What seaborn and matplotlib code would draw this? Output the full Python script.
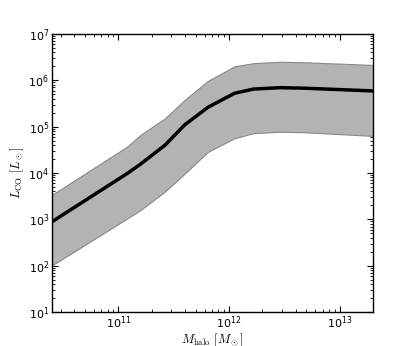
import numpy as np
import pandas as pd
import matplotlib
matplotlib.use('Agg')
import matplotlib.pyplot as plt
import seaborn as sns

# Halo mass grid and CO luminosity (median and scatter band)
m_halo = [2.51e10, 1.20e11, 1.58e11, 2.63e11, 3.98e11, 6.46e11,
          1.12e12, 1.66e12, 2.88e12, 4.68e12, 2.00e13]
l_co_med = [891, 9772, 15490, 39810, 1.10e5, 2.63e5,
            5.25e5, 6.46e5, 6.92e5, 6.76e5, 5.89e5]
l_co_hi = [3390, 3.72e4, 6.61e4, 1.51e5, 3.80e5, 9.77e5,
           2.00e6, 2.34e6, 2.51e6, 2.45e6, 2.14e6]
l_co_lo = [102, 1047, 1585, 3981, 9772, 2.88e4,
           5.62e4, 7.24e4, 7.76e4, 7.59e4, 6.31e4]

df = pd.DataFrame({'mhalo': m_halo, 'lco': l_co_med})

sns.set_style('ticks')
plt.rcParams.update({
    'font.family': ['DejaVu Sans'],
    'mathtext.fontset': 'cm',
    'text.color': 'black',
    'axes.labelcolor': 'black',
    'axes.edgecolor': 'black',
    'xtick.color': 'black',
    'ytick.color': 'black',
    'xtick.direction': 'in',
    'ytick.direction': 'in',
    'xtick.top': True,
    'ytick.right': True,
    'xtick.major.size': 4,
    'ytick.major.size': 4,
    'xtick.minor.size': 2,
    'ytick.minor.size': 2,
    'axes.linewidth': 1.0,
})

fig = plt.figure(figsize=(4.15, 3.46), dpi=100)
ax = fig.add_axes([0.125, 0.098, 0.774, 0.804])

ax.fill_between(m_halo, l_co_lo, l_co_hi, facecolor='#b3b3b3', edgecolor='#888888', linewidth=0.8)
sns.lineplot(data=df, x='mhalo', y='lco', color='black', linewidth=2.5, ax=ax)

ax.set_xscale('log')
ax.set_yscale('log')
ax.set_xlim(2.5e10, 2e13)
ax.set_ylim(10, 1e7)
ax.tick_params(which='both', labelsize=8, direction='in', top=True, right=True, pad=2)
ax.set_xlabel(r'$M_{\rm halo}\ [M_\odot]$', fontsize=9, labelpad=0)
ax.set_ylabel(r'$L_{\rm CO}\ [L_\odot]$', fontsize=9, labelpad=2)

fig.savefig('out.png', dpi=100)
